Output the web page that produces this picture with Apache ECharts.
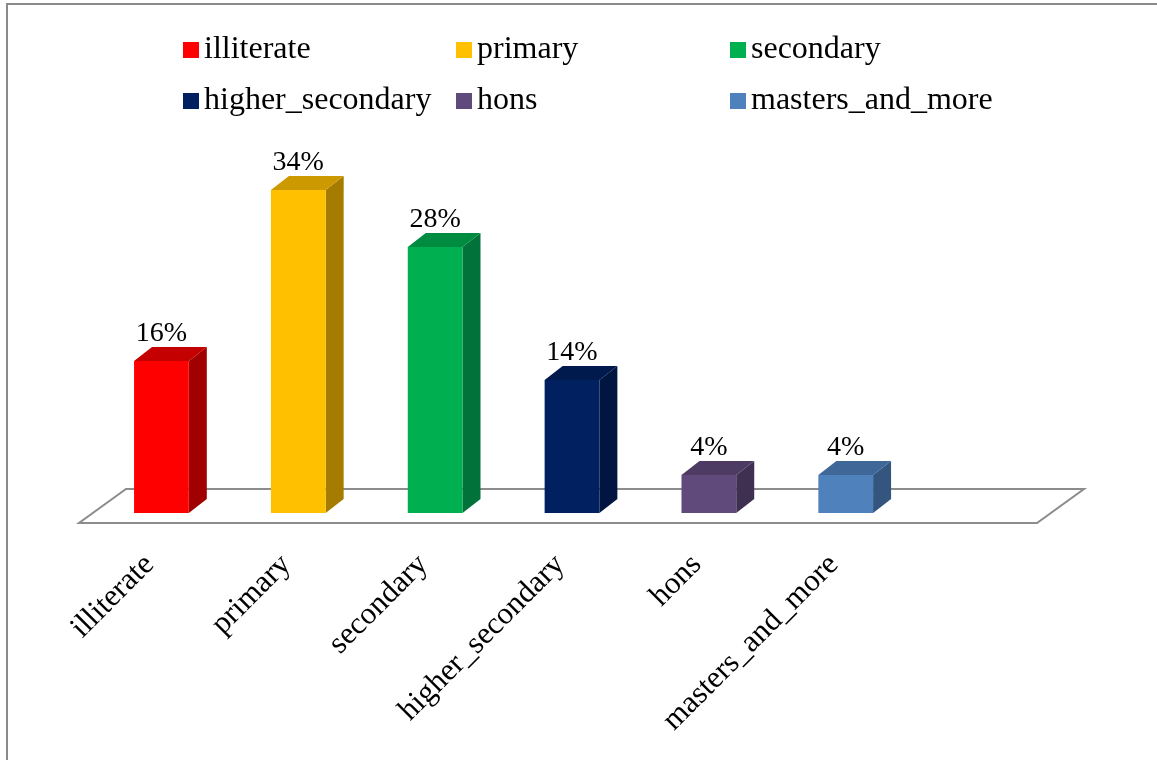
<!DOCTYPE html>
<html>
<head>
<meta charset="utf-8">
<title>Education level</title>
<script src="https://cdn.jsdelivr.net/npm/echarts@6/dist/echarts.min.js"></script>
<style>
  html, body { margin: 0; padding: 0; background: #ffffff; }
  #chart { width: 1157px; height: 760px; }
</style>
</head>
<body>
<div id="chart"></div>
<script>
// Education levels and their share of respondents (%)
const categories = ['illiterate', 'primary', 'secondary', 'higher_secondary', 'hons', 'masters_and_more'];
const shares = [16, 34, 28, 14, 4, 4];

// Front / top / side face colours for each level
const frontColors = ['#FF0000', '#FFC000', '#00B050', '#002060', '#604A7B', '#4F81BD'];
const topColors   = ['#C40000', '#CC9A00', '#008C40', '#001A4E', '#4D3B63', '#3F6798'];
const sideColors  = ['#A00000', '#A67C00', '#00723A', '#00153F', '#3F3052', '#34557E'];

const FONT = "'Liberation Serif', 'Times New Roman', serif";
const DEPTH_X = 18, DEPTH_Y = -14;       // bar depth offset
const FLOOR_FRONT = { dx: -14, dy: 10 }; // floor front edge relative to bar base line
const FLOOR_BACK  = { dx: 33, dy: -24 }; // floor back edge

// one spare slot at the right end of the floor
const axisCategories = categories.concat(['']);

const chart = echarts.init(document.getElementById('chart'), null, { renderer: 'canvas' });

function renderBar(i) {
  return function (params, api) {
    const base = api.coord([api.value(0), 0]);
    const top = api.coord([api.value(0), api.value(1)]);
    const w = api.size([1, 0])[0] * 0.4;
    const x0 = base[0] - w / 2, x1 = base[0] + w / 2;
    const yb = base[1], yt = top[1];
    return {
      type: 'group',
      children: [
        { type: 'polygon', shape: { points: [[x1, yb], [x1 + DEPTH_X, yb + DEPTH_Y], [x1 + DEPTH_X, yt + DEPTH_Y], [x1, yt]] },
          style: { fill: sideColors[i] } },
        { type: 'polygon', shape: { points: [[x0, yt], [x1, yt], [x1 + DEPTH_X, yt + DEPTH_Y], [x0 + DEPTH_X, yt + DEPTH_Y]] },
          style: { fill: topColors[i] } },
        { type: 'rect', shape: { x: x0, y: yt, width: w, height: yb - yt },
          style: { fill: frontColors[i] } },
        { type: 'text',
          style: { text: api.value(1) + '%', x: base[0], y: yt + DEPTH_Y - 13,
                   align: 'center', verticalAlign: 'middle',
                   font: '28px ' + FONT, fill: '#000000' } }
      ]
    };
  };
}

function renderFloor(params, api) {
  const cs = params.coordSys;
  const yb = cs.y + cs.height;
  const l = cs.x, r = cs.x + cs.width;
  return {
    type: 'polygon',
    shape: { points: [
      [l + FLOOR_FRONT.dx, yb + FLOOR_FRONT.dy],
      [r + FLOOR_FRONT.dx, yb + FLOOR_FRONT.dy],
      [r + FLOOR_BACK.dx, yb + FLOOR_BACK.dy],
      [l + FLOOR_BACK.dx, yb + FLOOR_BACK.dy]
    ] },
    style: { fill: '#ffffff', stroke: '#8c8c8c', lineWidth: 2 }
  };
}

const series = [{
  type: 'custom',
  name: 'floor',
  silent: true,
  z: 1,
  data: [[0, 0]],
  renderItem: renderFloor
}];
categories.forEach(function (name, i) {
  series.push({
    type: 'custom',
    name: name,
    z: 2,
    silent: true,
    itemStyle: { color: frontColors[i] },
    data: [[i, shares[i]]],
    renderItem: renderBar(i)
  });
});

const legendBase = {
  orient: 'vertical',
  top: 34,
  padding: 0,
  itemGap: 19,
  itemWidth: 16,
  itemHeight: 16,
  icon: 'rect',
  selectedMode: false,
  textStyle: { fontFamily: FONT, fontSize: 32, lineHeight: 32, color: '#000000' }
};
const legendColumns = [[0, 3], [1, 4], [2, 5]];
const legendLeft = [183, 456, 730];

chart.setOption({
  animation: false,
  backgroundColor: '#ffffff',
  graphic: [{
    type: 'rect',
    shape: { x: 7, y: 4, width: 1200, height: 800 },
    style: { fill: 'none', stroke: '#8a8a8a', lineWidth: 2 },
    silent: true
  }],
  legend: legendColumns.map(function (col, k) {
    return Object.assign({}, legendBase, {
      left: legendLeft[k],
      data: col.map(function (i) { return categories[i]; })
    });
  }),
  grid: { left: 93, top: 133, width: 958, height: 380, containLabel: false, outerBoundsMode: 'none' },
  xAxis: {
    type: 'category',
    data: axisCategories,
    axisLine: { show: false },
    axisTick: { show: false },
    splitLine: { show: false },
    axisLabel: {
      rotate: 45,
      margin: 35,
      padding: [0, 17, 0, 0],
      interval: 0,
      fontFamily: FONT,
      fontSize: 31,
      color: '#000000'
    }
  },
  yAxis: { type: 'value', min: 0, max: 40, show: false },
  series: series
});
</script>
</body>
</html>
